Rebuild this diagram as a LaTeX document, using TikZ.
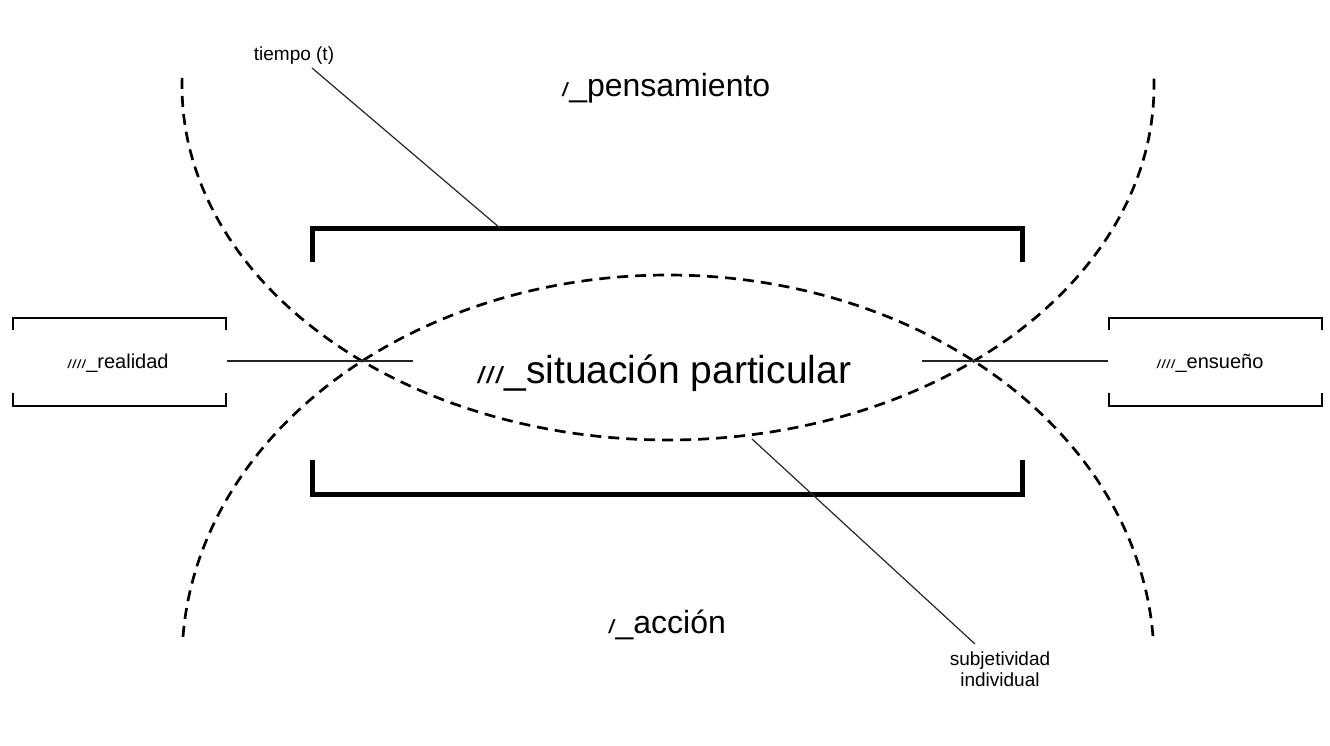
\documentclass[tikz,border=0pt]{standalone}
\usepackage{fontspec}
\setmainfont{Liberation Sans}
\usepackage{graphicx}
\newcommand\sls[1]{\scalebox{0.85}[0.6]{#1}}
\begin{document}
\begin{tikzpicture}[x=1pt,y=-1pt,
  arcline/.style={line width=2.7pt, dash pattern=on 11pt off 7pt},
  bigbr/.style={line width=5pt, line join=miter},
  smallbr/.style={line width=2.6pt, line join=miter},
  leader/.style={line width=1.2pt, black!85},
  txt/.style={inner sep=0pt, anchor=base}
]
\useasboundingbox (0,0) rectangle (1330,746);

% large dashed curves
\draw[arcline] plot[domain=181.3:-1.3, samples=160, smooth] ({668+486*cos(\x)},{86+354*sin(\x)});
\draw[arcline] plot[domain=183.6:356.4, samples=160, smooth] ({668+486*cos(\x)},{661+386*sin(\x)});

% big brackets
\draw[bigbr] (312,262) -- (312,228) -- (1022,228) -- (1022,262);
\draw[bigbr] (312,460) -- (312,494) -- (1022,494) -- (1022,460);

% small brackets
\draw[smallbr] (13,330) -- (13,318) -- (226,318) -- (226,330);
\draw[smallbr] (13,393) -- (13,406) -- (226,406) -- (226,393);
\draw[smallbr] (1109,330) -- (1109,318) -- (1322,318) -- (1322,330);
\draw[smallbr] (1109,393) -- (1109,406) -- (1322,406) -- (1322,393);

% texts
\node[txt, font=\fontsize{39}{44}\selectfont] (sit) at (664,383) {\sls{///}\_situación particular};
\node[txt, font=\fontsize{32}{36}\selectfont] (pens) at (666,97) {\sls{/}\_pensamiento};
\node[txt, font=\fontsize{32}{36}\selectfont] (acc) at (667,633) {\sls{/}\_acción};
\node[txt, font=\fontsize{20}{22}\selectfont] (real) at (118,368) {\sls{////}\_realidad};
\node[txt, font=\fontsize{20}{22}\selectfont] (ens) at (1210,368) {\sls{////}\_ensueño};
\node[txt, font=\fontsize{19}{21}\selectfont] (tiempo) at (294,61) {tiempo (t)};
\node[txt, font=\fontsize{19}{21}\selectfont, align=center] (subj) at (1000,686) {subjetividad\\individual};

% connectors
\coordinate (rlA) at (227,361);
\coordinate (rlB) at (413,361);
\coordinate (enA) at (922,361);
\coordinate (enB) at (1108,361);
\draw[leader] (rlA) -- (rlB);
\draw[leader] (enA) -- (enB);
\coordinate (tA) at (312,68);
\coordinate (tB) at (500,228);
\draw[leader] (tA) -- (tB);
\coordinate (sA) at (752,439);
\coordinate (sB) at (975,644);
\draw[leader] (sA) -- (sB);
\end{tikzpicture}
\end{document}
